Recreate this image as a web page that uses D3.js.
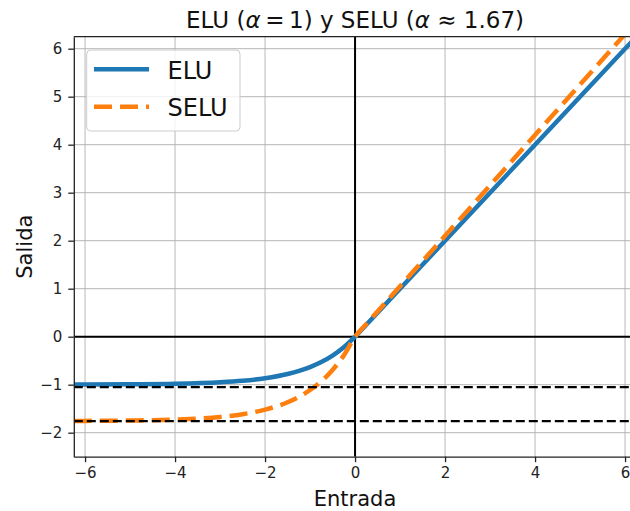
<!DOCTYPE html>
<html>
<head>
<meta charset="utf-8">
<script src="https://cdn.jsdelivr.net/npm/d3@7/dist/d3.min.js"></script>
<style>
  html, body { margin: 0; padding: 0; background: #fff; }
  svg { display: block; font-family: "DejaVu Sans", sans-serif; }
</style>
</head>
<body>
<svg id="chart" width="630" height="511"></svg>
<script>
// Sampled inputs (x) and outputs of the two activations
const xs        = [-6.25, -6, -5, -4, -3, -2.5, -2, -1.5, -1, -0.75, -0.5, -0.25, 0, 0.25, 2, 4, 6, 6.25];
const eluVals   = [-0.998, -0.998, -0.993, -0.982, -0.950, -0.918, -0.865, -0.777, -0.632, -0.528, -0.393, -0.221, 0, 0.25, 2, 4, 6, 6.25];
const seluVals  = [-1.755, -1.754, -1.746, -1.726, -1.671, -1.614, -1.520, -1.366, -1.111, -0.928, -0.692, -0.389, 0, 0.263, 2.101, 4.203, 6.304, 6.567];

// Saturation levels marked with dashed guides (−λ and −λα)
const guideLevels = [-1.0507, -1.7581];

const xTicks = [-6, -4, -2, 0, 2, 4, 6];
const yTicks = [-2, -1, 0, 1, 2, 3, 4, 5, 6];

const seriesNames = ["ELU", "SELU"];
const seriesColors = ["#1f77b4", "#ff7f0e"];

const svg = d3.select("#chart");
const pL = 73.8, pR = 636.3, pT = 36.7, pB = 456.7;

const x = d3.scaleLinear().domain([-6.25, 6.25]).range([pL, pR]);
const y = d3.scaleLinear().domain([-2.5, 6.25]).range([pB, pT]);

svg.append("defs").append("clipPath").attr("id", "plot-clip")
  .append("rect").attr("x", pL).attr("y", pT)
  .attr("width", pR - pL).attr("height", pB - pT);

// Grid
const grid = svg.append("g").attr("stroke", "#b0b0b0").attr("stroke-opacity", 0.75).attr("stroke-width", 1.2);
grid.selectAll(".gx").data(xTicks).join("line")
  .attr("x1", d => x(d)).attr("x2", d => x(d)).attr("y1", pT).attr("y2", pB);
grid.selectAll(".gy").data(yTicks).join("line")
  .attr("x1", pL).attr("x2", pR).attr("y1", d => y(d)).attr("y2", d => y(d));

const plot = svg.append("g").attr("clip-path", "url(#plot-clip)");

// Zero axes
plot.append("line").attr("x1", pL).attr("x2", pR).attr("y1", y(0)).attr("y2", y(0))
  .attr("stroke", "#000").attr("stroke-width", 2);
plot.append("line").attr("x1", x(0)).attr("x2", x(0)).attr("y1", pT).attr("y2", pB)
  .attr("stroke", "#000").attr("stroke-width", 2);

// Curves
const line = d3.line().x(d => x(d[0])).y(d => y(d[1])).curve(d3.curveMonotoneX);
const eluPts = xs.map((v, i) => [v, eluVals[i]]);
const seluPts = xs.map((v, i) => [v, seluVals[i]]);

plot.append("path").attr("d", line(eluPts)).attr("fill", "none")
  .attr("stroke", seriesColors[0]).attr("stroke-width", 4.5);
plot.append("path").attr("d", line(seluPts)).attr("fill", "none")
  .attr("stroke", seriesColors[1]).attr("stroke-width", 4.5)
  .attr("stroke-dasharray", "18,8");

// Dashed guides
plot.selectAll(".guide").data(guideLevels).join("line")
  .attr("x1", pL).attr("x2", pR).attr("y1", d => y(d)).attr("y2", d => y(d))
  .attr("stroke", "#000").attr("stroke-width", 2.2).attr("stroke-dasharray", "9,4");

// Axes
const fmt = d => d3.format("d")(d).replace("-", "\u2212");
const xAxis = svg.append("g").attr("transform", `translate(0,${pB})`)
  .call(d3.axisBottom(x).tickValues(xTicks).tickSize(5.5).tickPadding(5)
    .tickSizeOuter(0).tickFormat(fmt));
const yAxis = svg.append("g").attr("transform", `translate(${pL},0)`)
  .call(d3.axisLeft(y).tickValues(yTicks).tickSize(5.5).tickPadding(6)
    .tickSizeOuter(0).tickFormat(fmt));
[xAxis, yAxis].forEach(a => {
  a.select(".domain").attr("stroke", "#222").attr("stroke-width", 1.3);
  a.selectAll(".tick line").attr("stroke", "#222").attr("stroke-width", 1.3);
  a.selectAll(".tick text").attr("fill", "#222").style("font-size", "15px")
    .style("font-family", "DejaVu Sans");
});

// Top and right spines
svg.append("line").attr("x1", pL).attr("x2", pR).attr("y1", pT).attr("y2", pT)
  .attr("stroke", "#222").attr("stroke-width", 1.3);
svg.append("line").attr("x1", pR).attr("x2", pR).attr("y1", pT).attr("y2", pB)
  .attr("stroke", "#222").attr("stroke-width", 1.3);

// Title
const title = svg.append("text").attr("x", (pL + pR) / 2).attr("y", 27.5)
  .attr("text-anchor", "middle").style("font-size", "23px").attr("fill", "#111")
  .attr("xml:space", "preserve").style("white-space", "pre");
title.append("tspan").text("ELU (");
title.append("tspan").style("font-style", "italic").text("α");
title.append("tspan").text("\u2009=\u20091) y SELU (");
title.append("tspan").style("font-style", "italic").text("α");
title.append("tspan").text(" ≈ 1.67)");

// Axis labels
svg.append("text").attr("x", (pL + pR) / 2).attr("y", 505.5)
  .attr("text-anchor", "middle").style("font-size", "21px").attr("fill", "#111").text("Entrada");
svg.append("text").attr("transform", `translate(31.5,${(pT + pB) / 2}) rotate(-90)`)
  .attr("text-anchor", "middle").style("font-size", "21px").attr("fill", "#111").text("Salida");

// Legend
const lg = svg.append("g");
lg.append("rect").attr("x", 86.7).attr("y", 50).attr("width", 153.3).attr("height", 81)
  .attr("rx", 4).attr("fill", "#fff").attr("fill-opacity", 0.8)
  .attr("stroke", "#cccccc").attr("stroke-width", 1);
const rows = [69.3, 106.7];
seriesNames.forEach((name, i) => {
  lg.append("line").attr("x1", 94).attr("x2", 149).attr("y1", rows[i]).attr("y2", rows[i])
    .attr("stroke", seriesColors[i]).attr("stroke-width", 4.5)
    .attr("stroke-dasharray", i === 1 ? "18,8" : null);
  lg.append("text").attr("x", 167.5).attr("y", rows[i] + 9.5)
    .style("font-size", "24px").attr("fill", "#111").text(name);
});
</script>
</body>
</html>
